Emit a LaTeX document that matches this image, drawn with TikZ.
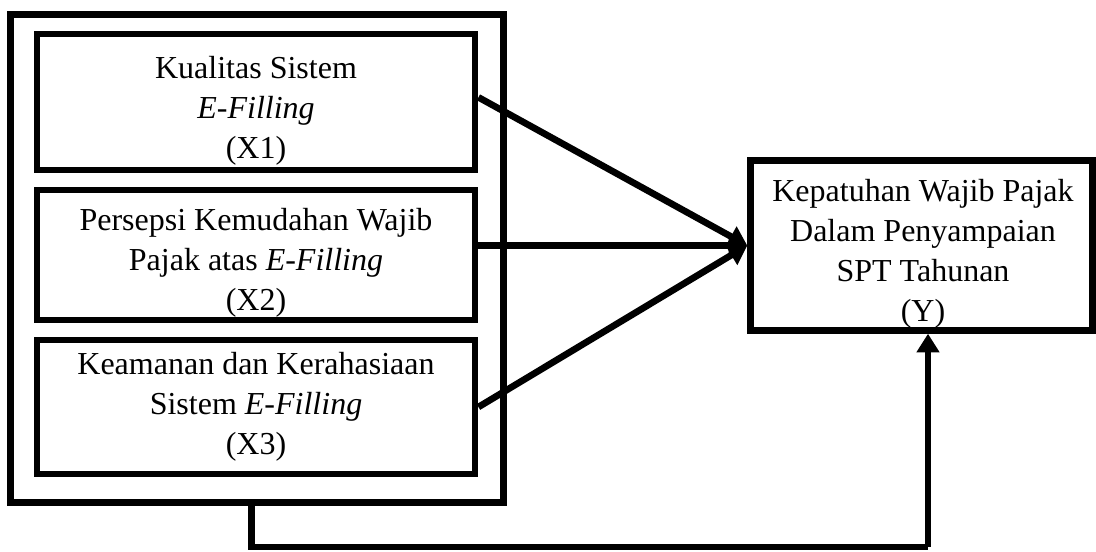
\documentclass[tikz,border=0pt]{standalone}
\usepackage{fontspec}
\setmainfont{Liberation Serif}
\usetikzlibrary{arrows.meta,calc}
\tikzset{
  txt/.style={align=center, inner sep=0pt, font=\fontsize{24pt}{30pt}\selectfont},
  box/.style={txt, draw, line width=4.8pt, rectangle},
  outerbox/.style={draw, line width=5.4pt, rectangle, inner sep=0pt},
  conn/.style={line width=5pt, -{Triangle[length=14pt,width=16.5pt]}},
}
\begin{document}
\begin{tikzpicture}[x=0.75pt,y=-0.75pt]
\useasboundingbox (0,0) rectangle (1096,551);
\node[outerbox, minimum width=493*0.75pt, minimum height=488*0.75pt] (outer) at (257,258.5) {};
\node[box, minimum width=438.5*0.75pt, minimum height=136.5*0.75pt] (b1) at (256,102)
  {\rule{0pt}{30pt}Kualitas Sistem\\\textit{E-Filling}\\(X1)};
\node[box, minimum width=438.5*0.75pt, minimum height=130*0.75pt] (b2) at (256,255)
  {\rule{0pt}{28pt}Persepsi Kemudahan Wajib\\Pajak atas \textit{E-Filling}\\(X2)};
\node[box, minimum width=438.5*0.75pt, minimum height=134*0.75pt] (b3) at (256,407)
  {Keamanan dan Kerahasiaan\\Sistem \textit{E-Filling}\\(X3)};
\node[draw, line width=4.8pt, rectangle, minimum width=342*0.75pt, minimum height=170*0.75pt] (y) at (921.5,245.5) {};
\node[txt] (yt) at (923,254) {Kepatuhan Wajib Pajak\\Dalam Penyampaian\\SPT Tahunan\\(Y)};
\draw[conn] ([yshift=3.5pt]b1.east) -- (y.west);
\draw[conn] (y.west -| b2.east) -- (y.west);
\draw[conn] (b3.east) -- (y.west);
\coordinate (c) at (251.5,547);
\coordinate (d) at (928,547);
\draw[line width=5pt] (outer.south -| c) -- (c) -- (d);
\draw[conn] (d) -- (d |- y.south);
\end{tikzpicture}
\end{document}
